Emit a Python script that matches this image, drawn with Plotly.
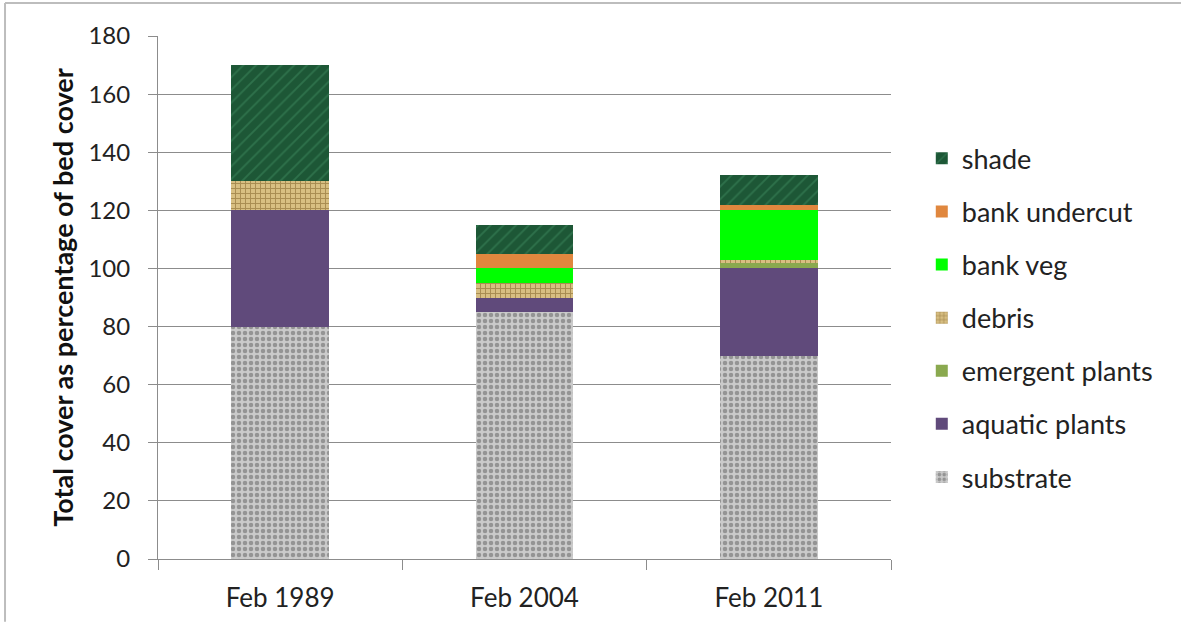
import plotly.graph_objects as go

categories = ["Feb 1989", "Feb 2004", "Feb 2011"]
substrate = [80, 85, 70]
aquatic_plants = [40, 5, 30]
emergent_plants = [0, 0, 2]
debris = [10, 5, 1]
bank_veg = [0, 5, 17]
bank_undercut = [0, 5, 2]
shade = [40, 10, 10]
y_ticks = [0, 20, 40, 60, 80, 100, 120, 140, 160, 180]

series = [
    ("substrate", substrate, "#b5b5b5", dict(shape=".", fgcolor="#5e5e5e", bgcolor="#cacaca", size=6, solidity=0.45)),
    ("aquatic plants", aquatic_plants, "#604a7b", None),
    ("emergent plants", emergent_plants, "#8aa94f", None),
    ("debris", debris, "#d6bd80", dict(shape="+", fgcolor="#7a5a20", bgcolor="#d8bf82", size=5, solidity=0.35)),
    ("bank veg", bank_veg, "#00ff00", None),
    ("bank undercut", bank_undercut, "#e0873e", None),
    ("shade", shade, "#1d5736", dict(shape="/", fgcolor="#3f8b5f", bgcolor="#1d5736", size=9, solidity=0.2)),
]

fig = go.Figure()
n = len(series)
for i, (name, vals, col, pat) in enumerate(series):
    marker = dict(color=col, line=dict(width=0))
    if pat:
        marker["pattern"] = pat
    fig.add_trace(go.Bar(x=categories, y=vals, name=name, marker=marker,
                         legendgroup=f"g{i}", legendrank=n - i))

font_family = "Lato, 'Open Sans', sans-serif"
fig.update_layout(
    barmode="stack",
    bargap=0.6,
    width=1181, height=629,
    margin=dict(l=158, r=290, t=36, b=70),
    paper_bgcolor="white",
    plot_bgcolor="white",
    font=dict(family=font_family, size=25, color="#222"),
    legend=dict(
        traceorder="grouped",
        tracegroupgap=15,
        x=1.042, y=0.812, xanchor="left", yanchor="top",
        font=dict(size=27, color="#222"),
        itemwidth=30,
        bgcolor="rgba(0,0,0,0)",
    ),
    xaxis=dict(
        showline=True, linecolor="#8c8c8c", linewidth=1,
        ticks="outside", tickson="boundaries", ticklen=10, tickcolor="#8c8c8c",
        ticklabelstandoff=16,
        tickfont=dict(size=26, color="#222"),
        showgrid=False,
    ),
    yaxis=dict(
        range=[0, 180], tickvals=y_ticks,
        showline=True, linecolor="#8c8c8c", linewidth=1,
        ticks="outside", ticklen=9, tickcolor="#8c8c8c",
        ticklabelstandoff=13,
        showgrid=True, gridcolor="#8c8c8c", gridwidth=1,
        tickfont=dict(size=24, color="#222"),
        title=dict(text="<b>Total cover as percentage of bed cover</b>",
                   font=dict(size=27, color="#111"), standoff=6),
        zeroline=False,
    ),
    shapes=[
        dict(type="line", xref="paper", yref="paper", x0=-0.2087, x1=1.4, y0=1.0631, y1=1.0631,
             line=dict(color="#bdbdbd", width=2)),
        dict(type="line", xref="paper", yref="paper", x0=-0.2087, x1=-0.2087, y0=1.0631, y1=-0.12,
             line=dict(color="#bdbdbd", width=2)),
    ],
)

fig.write_html("out.html", config={"displayModeBar": False},
               post_script="document.body.style.margin='0px';")
